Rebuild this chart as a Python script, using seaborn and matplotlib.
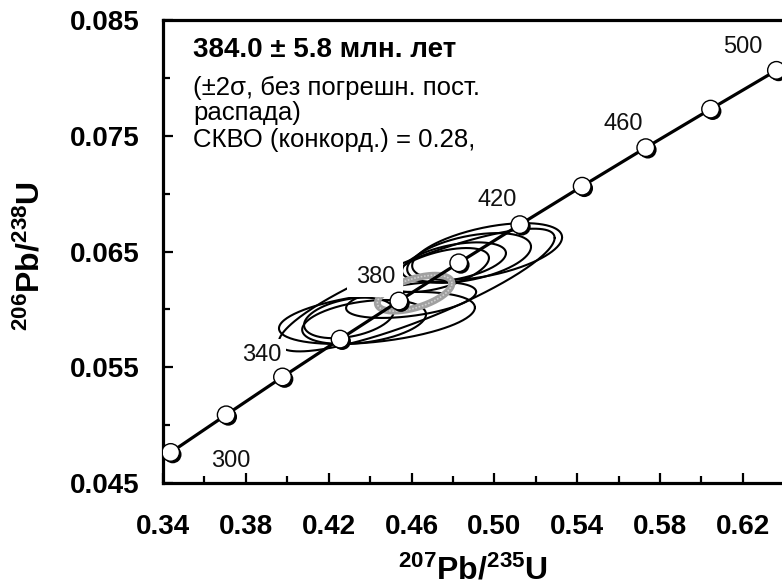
import numpy as np
import matplotlib
matplotlib.use("Agg")
import matplotlib.pyplot as plt
import matplotlib.patheffects as pe
from matplotlib.ticker import MultipleLocator, FormatStrFormatter
import seaborn as sns

# ---- data ----
ages = [300, 320, 340, 360, 380, 400, 420, 440, 460, 480, 500]
pb207_u235 = [0.3437, 0.3705, 0.3977, 0.4255, 0.4539, 0.4828, 0.5123, 0.5424, 0.5731, 0.6044, 0.6362]
pb206_u238 = [0.04764, 0.05089, 0.05416, 0.05743, 0.06072, 0.06402, 0.06732, 0.07064, 0.07397, 0.07730, 0.08065]
# concordia curve (extends a little beyond the marked ages)
curve_x = [0.3306] + pb207_u235 + [0.6525]
curve_y = [0.04601] + pb206_u238 + [0.08233]
labelled_ages = [300, 340, 380, 420, 460, 500]

# analysis error ellipses: centre, 2-sigma half extents, correlation
ell_x = [0.4625, 0.4433, 0.4371, 0.4598, 0.4878, 0.4805, 0.4965, 0.4298, 0.4733]
ell_y = [0.06167, 0.05926, 0.05891, 0.06081, 0.06444, 0.06409, 0.06500, 0.05926, 0.06340]
ell_sx = [0.0666, 0.0473, 0.0299, 0.0314, 0.0299, 0.0251, 0.0362, 0.0217, 0.0241]
ell_sy = [0.00530, 0.00225, 0.00190, 0.00155, 0.00215, 0.00170, 0.00245, 0.00175, 0.00190]
ell_rho = [0.85, 0.40, 0.35, 0.45, 0.45, 0.45, 0.50, 0.35, 0.55]
# concordia age ellipse
age_x, age_y, age_sx, age_sy, age_rho = 0.4615, 0.06140, 0.0180, 0.00155, 0.55

xticks = [0.34, 0.38, 0.42, 0.46, 0.50, 0.54, 0.58, 0.62]
yticks = [0.045, 0.055, 0.065, 0.075, 0.085]

title_line = "384.0 ± 5.8 млн. лет"
info_lines = ["(±2σ, без погрешн. пост.", "распада)", "СКВО (конкорд.) = 0.28,"]

# ---- style ----
sns.set_style("ticks")
plt.rcParams["font.family"] = ["Liberation Sans", "DejaVu Sans"]
plt.rcParams["mathtext.fontset"] = "custom"
plt.rcParams["mathtext.rm"] = "Liberation Sans:bold"
plt.rcParams["mathtext.bf"] = "Liberation Sans:bold"
plt.rcParams["mathtext.it"] = "Liberation Sans:bold"
plt.rcParams["mathtext.default"] = "rm"
for k in ["text.color", "axes.labelcolor", "xtick.color", "ytick.color",
          "xtick.labelcolor", "ytick.labelcolor"]:
    plt.rcParams[k] = "black"

fig = plt.figure(figsize=(7.82, 5.85), dpi=100)
W, H = 782, 585
ax = fig.add_axes([163 / W, 102 / H, 619 / W, 463 / H])


def ellipse_path(cx, cy, sx, sy, rho, n=240):
    t = np.linspace(0, 2 * np.pi, n)
    x = cx + sx * np.cos(t)
    y = cy + sy * (rho * np.cos(t) + np.sqrt(1 - rho ** 2) * np.sin(t))
    return x, y


for cx, cy, sx, sy, r in zip(ell_x, ell_y, ell_sx, ell_sy, ell_rho):
    ex, ey = ellipse_path(cx, cy, sx, sy, r)
    ax.plot(ex, ey, color="black", lw=1.5, zorder=2)

gx, gy = ellipse_path(age_x, age_y, age_sx, age_sy, age_rho)
ax.plot(gx, gy, color="#a0a0a0", lw=5, zorder=2.5)
ax.plot(gx, gy, color="#d0d0d0", lw=1.2, ls=(0, (1, 1)), zorder=2.6)

sns.lineplot(x=curve_x, y=curve_y, sort=False, estimator=None, color="black",
             lw=2.3, ax=ax, zorder=3)

# age labels
offsets = {300: (43, -6), 340: (-15, 16), 380: (-17, 17), 420: (-16, 18),
           460: (-16, 17), 500: (-24, 17)}
for a in labelled_ages:
    i = ages.index(a)
    if a == 380:
        bb = dict(boxstyle="square,pad=0.35", fc="white", ec="none")
    elif a == 340:
        bb = dict(boxstyle="square,pad=0.2", fc="white", ec="none")
    else:
        bb = None
    ax.annotate(str(a), (pb207_u235[i], pb206_u238[i]), xytext=offsets[a],
                textcoords="offset points", ha="center", va="center",
                fontsize=17, color="#111111", zorder=4, bbox=bb)

sns.scatterplot(x=pb207_u235, y=pb206_u238, s=160, color="white",
                edgecolor="black", linewidth=1.0, ax=ax, zorder=5)
ax.collections[-1].set_path_effects(
    [pe.SimplePatchShadow(offset=(1.5, -1.5), shadow_rgbFace="black", alpha=1.0),
     pe.Normal()])

ax.set_xlim(0.34, 0.34 + 619 / 2071)
ax.set_ylim(0.045, 0.085)
ax.set_xticks(xticks)
ax.set_yticks(yticks)
ax.xaxis.set_minor_locator(MultipleLocator(0.02))
ax.yaxis.set_minor_locator(MultipleLocator(0.005))
ax.xaxis.set_major_formatter(FormatStrFormatter("%.2f"))
ax.yaxis.set_major_formatter(FormatStrFormatter("%.3f"))
ax.tick_params(which="major", direction="in", length=7, width=1.6,
               labelsize=20, pad=22, top=False, right=False)
ax.tick_params(axis="y", which="major", pad=17)
ax.tick_params(which="minor", direction="in", length=5, width=1.6,
               top=False, right=False)
for lab in ax.get_xticklabels() + ax.get_yticklabels():
    lab.set_fontweight("bold")

for s in ["left", "bottom", "top"]:
    ax.spines[s].set_linewidth(2.3)
    ax.spines[s].set_color("black")
ax.spines["right"].set_visible(False)

ax.set_xlabel(r"$^{207}$Pb/$^{235}$U", fontsize=23, fontweight="bold")
ax.set_ylabel(r"$^{206}$Pb/$^{238}$U", fontsize=23, fontweight="bold")
ax.xaxis.set_label_coords(0.5, -0.155)
ax.yaxis.set_label_coords((47 - 163) / 619, 0.49)

# info text
ax.text(0.0485, 0.920, title_line, transform=ax.transAxes, fontsize=20,
        fontweight="bold", va="baseline", ha="left", zorder=6)
for yy, line in zip([0.838, 0.784, 0.7257], info_lines):
    ax.text(0.0485, yy, line, transform=ax.transAxes, fontsize=18.5,
            va="baseline", ha="left", zorder=6)

fig.savefig("out.png", dpi=100)
